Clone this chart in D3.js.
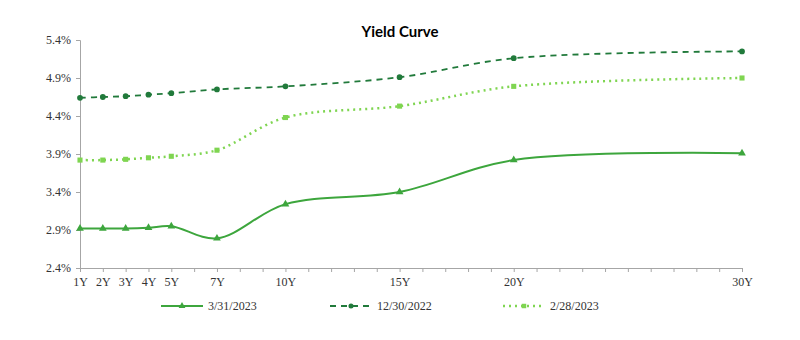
<!DOCTYPE html>
<html><head><meta charset="utf-8">
<script src="https://cdn.jsdelivr.net/npm/d3@7"></script>
<style>body{margin:0;background:#fff}</style>
</head><body><svg id="c" width="800" height="340"></svg>
<script>
const maturities = [1,2,3,4,5,7,10,15,20,30];
const tickLabels = ["1Y","2Y","3Y","4Y","5Y","7Y","10Y","15Y","20Y","30Y"];
const yTicks = [2.4,2.9,3.4,3.9,4.4,4.9,5.4];
const seriesNames = ["3/31/2023","12/30/2022","2/28/2023"];
const y20230331 = [2.92,2.92,2.92,2.93,2.95,2.79,3.24,3.40,3.82,3.91];
const y20221230 = [4.64,4.65,4.66,4.68,4.70,4.75,4.79,4.91,5.16,5.25];
const y20230228 = [3.82,3.82,3.83,3.85,3.87,3.95,4.38,4.53,4.79,4.90];

const svg = d3.select("#c");
const x = d3.scaleLinear().domain([1,30]).range([80,742]);
const y = d3.scaleLinear().domain([2.4,5.4]).range([268,40]);
const axisColor = "#a6a6a6";

svg.append("text").attr("x",400).attr("y",37).attr("text-anchor","middle")
  .attr("font-family","Lato, 'Open Sans', sans-serif").attr("font-weight","bold")
  .attr("font-size",15).attr("fill","#000").text("Yield Curve");

// y axis
const ya = svg.append("g").attr("transform","translate(80,0)")
  .call(d3.axisLeft(y).tickValues(yTicks).tickSize(4).tickFormat(d=>d.toFixed(1)+"%"));
ya.select(".domain").attr("stroke",axisColor);
ya.selectAll(".tick line").attr("stroke",axisColor);
ya.selectAll(".tick text").attr("font-family","'Liberation Serif', serif").attr("font-size",12).attr("fill","#333").attr("x",-9);

// x axis
const allYears = d3.range(1,31);
const xa = svg.append("g").attr("transform","translate(0,268)")
  .call(d3.axisBottom(x).tickValues(allYears).tickSize(4).tickSizeOuter(0)
    .tickFormat(d=>{const i=maturities.indexOf(d);return i>=0?tickLabels[i]:"";}));
xa.select(".domain").attr("stroke",axisColor);
xa.selectAll(".tick line").attr("stroke",axisColor);
xa.selectAll(".tick text").attr("font-family","'Liberation Serif', serif").attr("font-size",12).attr("fill","#333").attr("dy","0.9em");

const series = [
  {name:seriesNames[0], vals:y20230331, color:"#3da63d", dash:null, width:2, marker:d3.symbolTriangle},
  {name:seriesNames[1], vals:y20221230, color:"#217a3b", dash:"6,5", width:1.8, marker:d3.symbolCircle},
  {name:seriesNames[2], vals:y20230228, color:"#7fd551", dash:"2,4", width:2.5, marker:d3.symbolSquare}
];
const line = d3.line().x(d=>x(d[0])).y(d=>y(d[1])).curve(d3.curveCatmullRom.alpha(0.5));

series.forEach(s=>{
  const pts = maturities.map((m,i)=>[m,s.vals[i]]);
  svg.append("path").datum(pts).attr("d",line).attr("fill","none")
    .attr("stroke",s.color).attr("stroke-width",s.width)
    .attr("stroke-dasharray",s.dash).attr("stroke-linecap",s.dash==="2,4"?"butt":"butt");
  svg.append("g").selectAll("path").data(pts).join("path")
    .attr("transform",d=>`translate(${x(d[0])},${y(d[1])})`)
    .attr("d",d3.symbol().type(s.marker).size(26)).attr("fill",s.color);
});

// legend
const legX = [161,330,503];
series.forEach((s,i)=>{
  const g = svg.append("g").attr("transform",`translate(${legX[i]},306)`);
  g.append("line").attr("x1",0).attr("x2",42).attr("y1",0).attr("y2",0)
    .attr("stroke",s.color).attr("stroke-width",s.width).attr("stroke-dasharray",s.dash);
  g.append("path").attr("transform","translate(21,0)").attr("d",d3.symbol().type(s.marker).size(20)).attr("fill",s.color);
  g.append("text").attr("x",47).attr("y",4).attr("font-family","'Liberation Serif', serif")
    .attr("font-size",12).attr("fill","#333").text(s.name);
});
</script></body></html>
